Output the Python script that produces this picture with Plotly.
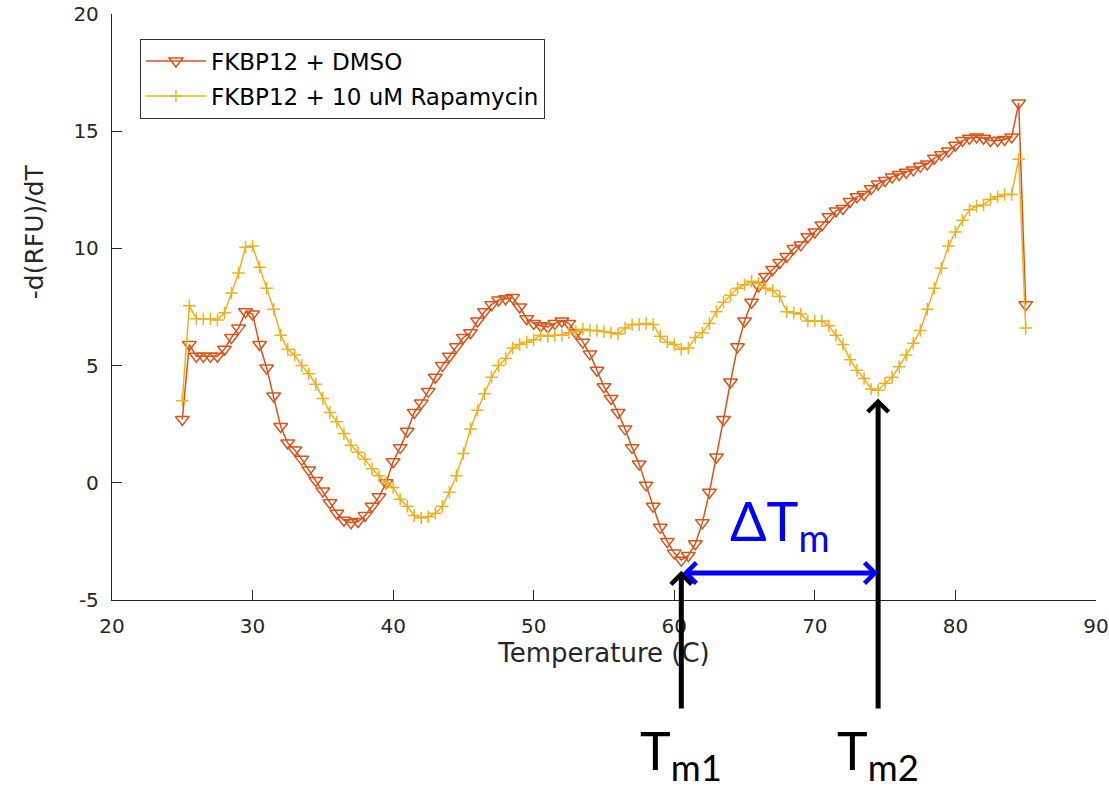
import numpy as np
import plotly.graph_objects as go

# Melt-curve derivative, sampled every 0.5 C from 25 to 85 C
temperature = [
    25.0, 25.5, 26.0, 26.5, 27.0, 27.5, 28.0, 28.5, 29.0, 29.5,
    30.0, 30.5, 31.0, 31.5, 32.0, 32.5, 33.0, 33.5, 34.0, 34.5,
    35.0, 35.5, 36.0, 36.5, 37.0, 37.5, 38.0, 38.5, 39.0, 39.5,
    40.0, 40.5, 41.0, 41.5, 42.0, 42.5, 43.0, 43.5, 44.0, 44.5,
    45.0, 45.5, 46.0, 46.5, 47.0, 47.5, 48.0, 48.5, 49.0, 49.5,
    50.0, 50.5, 51.0, 51.5, 52.0, 52.5, 53.0, 53.5, 54.0, 54.5,
    55.0, 55.5, 56.0, 56.5, 57.0, 57.5, 58.0, 58.5, 59.0, 59.5,
    60.0, 60.5, 61.0, 61.5, 62.0, 62.5, 63.0, 63.5, 64.0, 64.5,
    65.0, 65.5, 66.0, 66.5, 67.0, 67.5, 68.0, 68.5, 69.0, 69.5,
    70.0, 70.5, 71.0, 71.5, 72.0, 72.5, 73.0, 73.5, 74.0, 74.5,
    75.0, 75.5, 76.0, 76.5, 77.0, 77.5, 78.0, 78.5, 79.0, 79.5,
    80.0, 80.5, 81.0, 81.5, 82.0, 82.5, 83.0, 83.5, 84.0, 84.5,
    85.0,
]

dmso = [
    2.7, 5.9, 5.4, 5.4, 5.4, 5.4, 5.7, 6.2, 6.6, 7.3,
    7.2, 5.9, 4.9, 3.7, 2.4, 1.7, 1.4, 1.0, 0.55, 0.1,
    -0.35, -0.85, -1.3, -1.6, -1.7, -1.65, -1.4, -1.0, -0.6, 0.0,
    0.9, 1.5, 2.2, 3.0, 3.4, 3.9, 4.5, 5.0, 5.4, 5.8,
    6.2, 6.4, 6.9, 7.3, 7.6, 7.8, 7.85, 7.9, 7.5, 7.0,
    6.8, 6.7, 6.65, 6.8, 6.9, 6.8, 6.4, 6.0, 5.5, 4.8,
    4.1, 3.6, 3.0, 2.3, 1.5, 0.8, -0.1, -1.0, -1.9, -2.5,
    -3.0, -3.3, -3.1, -2.6, -1.7, -0.4, 1.1, 2.7, 4.3, 5.8,
    6.9, 7.7, 8.4, 8.8, 9.1, 9.4, 9.65, 10.0, 10.15, 10.5,
    10.7, 11.0, 11.35, 11.6, 11.7, 12.0, 12.2, 12.3, 12.55, 12.75,
    12.9, 13.05, 13.15, 13.25, 13.35, 13.5, 13.6, 13.85, 14.0, 14.15,
    14.4, 14.6, 14.7, 14.75, 14.7, 14.6, 14.6, 14.65, 14.75, 16.2,
    7.6,
]

rapamycin = [
    3.5, 7.55, 7.0, 7.0, 7.0, 6.95, 7.25, 8.1, 8.95, 10.05,
    10.1, 9.2, 8.3, 7.4, 6.3, 5.7, 5.45, 5.0, 4.65, 4.2,
    3.6, 3.0, 2.6, 2.1, 1.6, 1.3, 1.0, 0.6, 0.3, 0.0,
    -0.2, -0.7, -1.0, -1.4, -1.5, -1.45, -1.3, -1.0, -0.4, 0.3,
    1.25, 2.3, 3.1, 3.8, 4.5, 5.0, 5.3, 5.75, 5.9, 6.0,
    6.1, 6.3, 6.25, 6.3, 6.3, 6.4, 6.45, 6.55, 6.5, 6.5,
    6.45, 6.4, 6.35, 6.6, 6.75, 6.75, 6.8, 6.75, 6.25, 6.0,
    5.9, 5.7, 5.75, 6.2, 6.4, 6.8, 7.3, 7.7, 8.0, 8.3,
    8.45, 8.6, 8.5, 8.3, 8.2, 7.95, 7.3, 7.25, 7.2, 6.9,
    6.9, 6.9, 6.7, 6.3, 5.9, 5.25, 4.8, 4.45, 4.0, 3.95,
    4.25, 4.5, 4.95, 5.45, 5.95, 6.5, 7.4, 8.3, 9.15, 10.1,
    10.7, 11.2, 11.65, 11.8, 11.85, 12.1, 12.2, 12.3, 12.3, 13.8,
    6.6,
]

series_names = ["FKBP12 + DMSO", "FKBP12 + 10 uM Rapamycin"]
x_ticks = [20, 30, 40, 50, 60, 70, 80, 90]
y_ticks = [-5, 0, 5, 10, 15, 20]
y_tick_text = ["-5", "0", "5", "10", "15", "20"]

ORANGE = "#D95319"
GOLD = "#EDB120"
AXIS = "#262626"
BLUE = "#0000FF"
LABEL_FONT = "DejaVu Sans, Liberation Sans, Arial, sans-serif"
SLIDE_FONT = "Lato, Open Sans, sans-serif"

t = np.array(temperature)
d = np.array(dmso)
r = np.array(rapamycin)

# Melting temperatures: the deepest dip of each derivative curve
tm1 = float(t[np.argmin(d)])
late = t > 66
tm2 = float(t[late][np.argmin(r[late])])
dip1 = float(d.min())
dip2 = float(r[late].min())

fig = go.Figure()
fig.add_trace(go.Scatter(
    x=temperature, y=dmso, name=series_names[0], mode="lines+markers",
    legendgroup="a",
    line=dict(color=ORANGE, width=1.5),
    marker=dict(symbol="triangle-down-open", size=12, color=ORANGE,
                line=dict(color=ORANGE, width=1.5)),
))
fig.add_trace(go.Scatter(
    x=temperature, y=rapamycin, name=series_names[1], mode="lines+markers",
    legendgroup="b",
    line=dict(color=GOLD, width=1.5),
    marker=dict(symbol="cross-thin", size=9, color=GOLD,
                line=dict(color=GOLD, width=1.5)),
))

axis_common = dict(
    showgrid=False, zeroline=False, showline=True, linecolor=AXIS, linewidth=1.3,
    ticks="inside", ticklen=10, tickwidth=1, tickcolor=AXIS,
    tickfont=dict(family=LABEL_FONT, size=20, color=AXIS),
    ticklabeloverflow="allow", mirror=False, automargin=False,
)

fig.update_layout(
    width=1109, height=792,
    margin=dict(l=112, r=13, t=14, b=192),
    paper_bgcolor="white", plot_bgcolor="white",
    showlegend=True,
    legend=dict(
        x=0.0284, y=0.958, xanchor="left", yanchor="top",
        bgcolor="white", bordercolor="#333333", borderwidth=1,
        font=dict(family=LABEL_FONT, size=23, color="black"),
        traceorder="grouped", tracegroupgap=2, itemwidth=60,
    ),
    xaxis=dict(
        range=[20, 90], tickvals=x_ticks, ticklabelstandoff=8,
        title=dict(text="Temperature (C)", standoff=2,
                   font=dict(family=LABEL_FONT, size=26, color=AXIS)),
        **axis_common,
    ),
    yaxis=dict(
        range=[-5, 20], tickvals=y_ticks, ticktext=y_tick_text,
        ticklabelstandoff=8,
        **axis_common,
    ),
)

# Y-axis label placed as rotated text beside the tick labels
fig.add_annotation(
    x=-0.078, y=0.628, xref="paper", yref="paper", text="-d(RFU)/dT",
    textangle=-90, showarrow=False, xanchor="center", yanchor="middle",
    font=dict(family=LABEL_FONT, size=25, color=AXIS),
)

# Upward arrows marking each melting temperature
for tm, tip_y, tail_px in [(tm1, dip1 - 0.45, 710), (tm2, dip2 - 0.35, 710)]:
    head_px = 14 + 586 * (20 - tip_y) / 25
    fig.add_annotation(
        x=tm, y=tip_y, xref="x", yref="y", text="",
        showarrow=True, ax=0, ay=tail_px - head_px,
        arrowhead=4, arrowsize=0.8, arrowwidth=5, arrowcolor="black",
    )

# Double-headed arrow spanning the shift between the two dips
gap_y = dip1 - 0.55
fig.add_annotation(
    x=tm2, y=gap_y, ax=tm1, ay=gap_y, xref="x", yref="y", axref="x", ayref="y",
    text="", showarrow=True, arrowside="end+start",
    arrowhead=4, startarrowhead=4, arrowsize=0.8, startarrowsize=0.8,
    arrowwidth=5, arrowcolor=BLUE,
)
fig.add_annotation(
    x=(tm1 + tm2) / 2, y=gap_y + 2.1, xref="x", yref="y",
    text="ΔT<sub>m</sub>", showarrow=False,
    font=dict(family=SLIDE_FONT, size=54, color=BLUE),
    xanchor="center", yanchor="middle",
)

for tm, label in [(tm1, "T<sub>m1</sub>"), (tm2, "T<sub>m2</sub>")]:
    fig.add_annotation(
        x=tm, y=-0.2, xref="x", yref="paper", text=label, showarrow=False,
        font=dict(family=SLIDE_FONT, size=52, color="black"),
        xanchor="center", yanchor="top",
    )

fig.write_html("out.html")
